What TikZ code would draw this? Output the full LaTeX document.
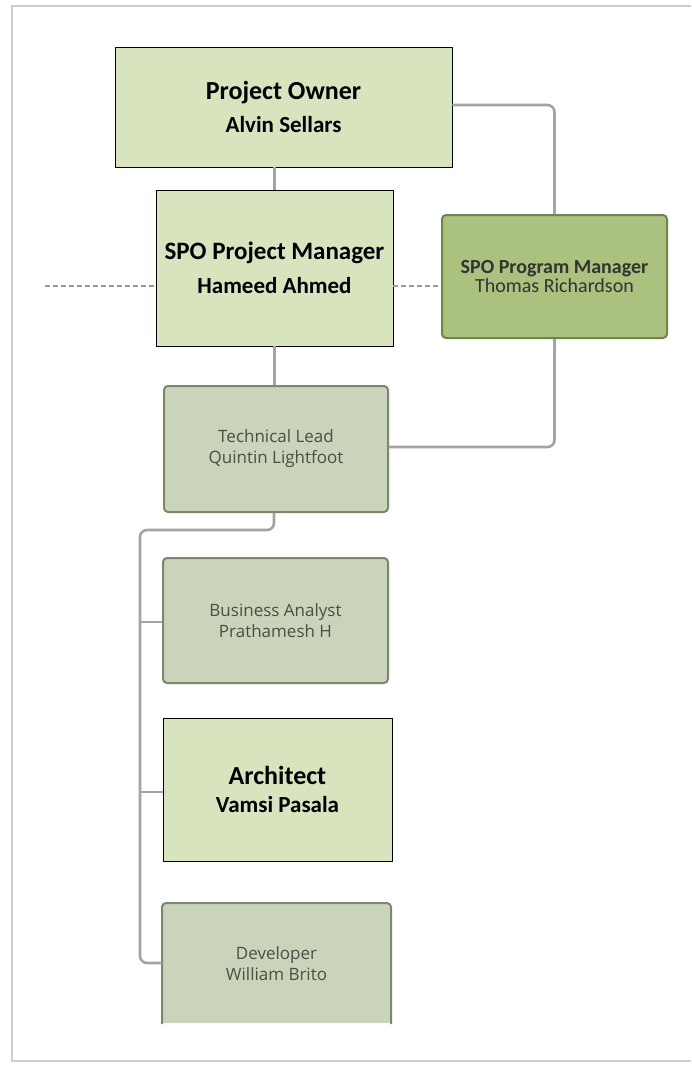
\documentclass[tikz,border=0pt]{standalone}
\usepackage{fontspec}
\setmainfont{Carlito}
\newfontfamily\osans{Open Sans}
\definecolor{lightgreen}{HTML}{D7E4BD}
\definecolor{pgmgreen}{HTML}{AAC27E}
\definecolor{pgmborder}{HTML}{6F8450}
\definecolor{graybox}{HTML}{C9D4BA}
\definecolor{grayborder}{HTML}{7C8770}
\definecolor{linegray}{HTML}{A3A59F}
\definecolor{framegray}{HTML}{CDCDCD}
\definecolor{smalltext}{HTML}{4A4F44}
\begin{document}
\begin{tikzpicture}[x=1pt,y=-1pt,
  lbox/.style={draw=black, line width=0.9pt, fill=lightgreen, align=center, inner sep=0pt},
  gbox/.style={draw=grayborder, line width=2pt, fill=graybox, rounded corners=4pt, align=center, inner sep=0pt, text=smalltext, font=\osans\fontsize{17}{21}\selectfont},
  pbox/.style={draw=pgmborder, line width=2pt, fill=pgmgreen, rounded corners=4pt, align=center, inner sep=0pt, text=black!80},
  conn/.style={draw=linegray, line width=2.6pt, rounded corners=7pt},
  dotline/.style={draw=gray!80, line width=2.6pt, dash pattern=on 4.5pt off 3.5pt}]
\useasboundingbox (0,0) rectangle (691,1065);
\fill[white] (0,0) rectangle (691,1065);
% page frame
\draw[framegray, line width=2.5pt] (691,6) -- (12,6) -- (12,1061) -- (691,1061);

% nodes
\node[lbox, minimum width=337pt, minimum height=120pt] (po) at (283.5,107)
  {\fontsize{26}{32}\selectfont\bfseries Project Owner\\[11pt]\fontsize{23}{28}\selectfont\bfseries Alvin Sellars};
\node[lbox, minimum width=237pt, minimum height=156pt] (pm) at (274.5,268)
  {\fontsize{25}{32}\selectfont\bfseries SPO Project Manager\\[13pt]\fontsize{23}{28}\selectfont\bfseries Hameed Ahmed};
\node[pbox, minimum width=225pt, minimum height=123pt] (pgm) at (554.5,276.5)
  {\fontsize{20}{19}\selectfont\bfseries SPO Program Manager\\\fontsize{20}{19}\selectfont Thomas Richardson};
\node[gbox, minimum width=224pt, minimum height=126pt] (tl) at (276,449)
  {Technical Lead\\Quintin Lightfoot};
\node[gbox, minimum width=225pt, minimum height=125pt] (ba) at (275.5,620.5)
  {Business Analyst\\Prathamesh H};
\node[lbox, minimum width=229pt, minimum height=143pt] (ar) at (277.5,789.5)
  {\fontsize{26}{30}\selectfont\bfseries Architect\\[11pt]\fontsize{23}{28}\selectfont\bfseries Vamsi Pasala};
\node[gbox, draw=none, rounded corners=0pt, minimum width=227pt, minimum height=119pt] (dev) at (276.5,963.5)
  {Developer\\William Brito};
\draw[grayborder, line width=2pt, rounded corners=4pt] (dev.south west) -- (dev.north west) -- (dev.north east) -- (dev.south east);

% connectors
\coordinate (pocorner) at (554.5,105);
\draw[conn] (po.east |- pocorner) -- (pocorner) -- (pgm.north);
\draw[conn] (po.south -| pm.north) -- (pm.north);
\draw[conn] (pm.south) -- (pm.south |- tl.north);
\coordinate (pgmcorner) at (554.5,447);
\draw[conn] (pgm.south) -- (pgmcorner) -- (tl.east |- pgmcorner);
\coordinate (tlbend) at (274,530);
\coordinate (rail) at (140,530);
\draw[conn] (tl.south -| tlbend) -- (tlbend) -- (rail) -- (140,963) -- (dev.west |- 0,963);
\draw[conn] (140,622) -- (ba.west |- 0,622);
\draw[conn] (140,792) -- (ar.west |- 0,792);

% dotted line
\coordinate (dotstart) at (45,286);
\draw[dotline] (dotstart) -- (pm.west |- dotstart);
\draw[dotline] (pm.east |- dotstart) -- (pgm.west |- dotstart);
\end{tikzpicture}
\end{document}
